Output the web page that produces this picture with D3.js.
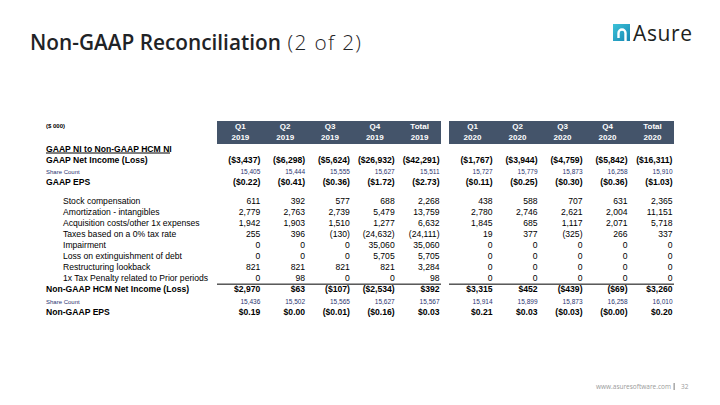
<!DOCTYPE html>
<html lang="en">
<head>
<meta charset="utf-8">
<title>Non-GAAP Reconciliation (2 of 2)</title>
<script src="https://d3js.org/d3.v7.min.js"></script>
<style>
  body { margin: 0; background: #fff; }
  svg text { font-family: "Liberation Sans", Arial, sans-serif; }
</style>
</head>
<body>
<div id="slide"></div>
<script>
// column headers
var quarters = ["Q1", "Q2", "Q3", "Q4", "Total"];
var years = ["2019", "2020"];

// values, Q1..Q4, Total 2019 then Q1..Q4, Total 2020
var gaapNetIncome   = [-3437, -6298, -5624, -26932, -42291, -1767, -3944, -4759, -5842, -16311];
var gaapShares      = [15405, 15444, 15555, 15627, 15511, 15727, 15779, 15873, 16258, 15910];
var gaapEps         = [-0.22, -0.41, -0.36, -1.72, -2.73, -0.11, -0.25, -0.30, -0.36, -1.03];
var stockComp       = [611, 392, 577, 688, 2268, 438, 588, 707, 631, 2365];
var amortization    = [2779, 2763, 2739, 5479, 13759, 2780, 2746, 2621, 2004, 11151];
var acquisition     = [1942, 1903, 1510, 1277, 6632, 1845, 685, 1117, 2071, 5718];
var taxes           = [255, 396, -130, -24632, -24111, 19, 377, -325, 266, 337];
var impairment      = [0, 0, 0, 35060, 35060, 0, 0, 0, 0, 0];
var debtLoss        = [0, 0, 0, 5705, 5705, 0, 0, 0, 0, 0];
var restructuring   = [821, 821, 821, 821, 3284, 0, 0, 0, 0, 0];
var taxPenalty      = [0, 98, 0, 0, 98, 0, 0, 0, 0, 0];
var nonGaapNI       = [2970, 63, -107, -2534, 392, 3315, 452, -439, -69, 3260];
var nonGaapShares   = [15436, 15502, 15565, 15627, 15567, 15914, 15899, 15873, 16258, 16010];
var nonGaapEps      = [0.19, 0.00, -0.01, -0.16, 0.03, 0.21, 0.03, -0.03, -0.004, 0.20];

var rows = [
  {label: "GAAP NI to Non-GAAP HCM NI", pos: 0, kind: "section"},
  {label: "GAAP Net Income (Loss)", pos: 1, kind: "money", values: gaapNetIncome},
  {label: "Share Count", pos: 2, kind: "share", values: gaapShares},
  {label: "GAAP EPS", pos: 3, kind: "eps", values: gaapEps},
  {label: "Stock compensation", pos: 4.7, kind: "adj", values: stockComp},
  {label: "Amortization - intangibles", pos: 5.7, kind: "adj", values: amortization},
  {label: "Acquisition costs/other 1x expenses", pos: 6.7, kind: "adj", values: acquisition},
  {label: "Taxes based on a 0% tax rate", pos: 7.7, kind: "adj", values: taxes},
  {label: "Impairment", pos: 8.7, kind: "adj", values: impairment},
  {label: "Loss on extinguishment of debt", pos: 9.7, kind: "adj", values: debtLoss},
  {label: "Restructuring lookback", pos: 10.7, kind: "adj", values: restructuring},
  {label: "1x Tax Penalty related to Prior periods", pos: 11.7, kind: "adj", values: taxPenalty},
  {label: "Non-GAAP HCM Net Income (Loss)", pos: 12.7, kind: "money", values: nonGaapNI},
  {label: "Share Count", pos: 13.7, kind: "share", values: nonGaapShares},
  {label: "Non-GAAP EPS", pos: 14.7, kind: "eps", values: nonGaapEps}
];

var W = 720, H = 405;
var svg = d3.select("#slide").append("svg")
    .attr("width", W)
    .attr("height", H);

// title
var title = svg.append("text")
    .attr("x", 30).attr("y", 50)
    .attr("fill", "#1f2326")
    .style("font-family", "'Open Sans', sans-serif")
    .style("font-size", "20.8px");
title.append("tspan").style("font-weight", 600).text("Non-GAAP Reconciliation");
title.append("tspan").style("font-weight", 300).style("letter-spacing", "1.3px").text(" (2 of 2)");

// logo
var grad = svg.append("defs").append("linearGradient")
    .attr("id", "logoGrad").attr("x1", 0).attr("y1", 0).attr("x2", 1).attr("y2", 1);
grad.append("stop").attr("offset", "0%").attr("stop-color", "#3cc3d8");
grad.append("stop").attr("offset", "100%").attr("stop-color", "#1787b3");
svg.append("rect").attr("x", 613).attr("y", 24).attr("width", 17).attr("height", 17)
    .attr("fill", "url(#logoGrad)");
svg.append("path")
    .attr("d", "M618.5,38 V33 A3.5,3.5 0 0 1 625.5,33 V41")
    .attr("fill", "none").attr("stroke", "#fff").attr("stroke-width", 2.4);
svg.append("text")
    .attr("x", 633).attr("y", 40.5)
    .attr("fill", "#1d1f21")
    .style("font-family", "'Open Sans', sans-serif")
    .style("font-size", "21px")
    .style("letter-spacing", "0.6px")
    .text("Asure");

// footer
svg.append("text")
    .attr("x", 671).attr("y", 389).attr("text-anchor", "end")
    .attr("fill", "#9a9a9a")
    .style("font-family", "'Open Sans', sans-serif")
    .style("font-size", "6.5px")
    .text("www.asuresoftware.com");
svg.append("rect").attr("x", 673.5).attr("y", 383).attr("width", 1.3).attr("height", 7).attr("fill", "#9a9a9a");
svg.append("text")
    .attr("x", 681).attr("y", 389)
    .attr("fill", "#9a9a9a")
    .style("font-family", "'Open Sans', sans-serif")
    .style("font-size", "6.5px")
    .text("32");

// scales
var y = d3.scaleLinear().domain([0, 1]).range([151.5, 162.6]);
var groupX = d3.scaleOrdinal().domain(years).range([[217, 441], [449, 674]]);
function colScale(year) {
  return d3.scaleBand().domain(quarters).range(groupX(year));
}

function fmt(v, kind) {
  var dollar = kind === "money" || kind === "eps";
  var s = d3.format(kind === "eps" ? ",.2f" : ",.0f")(Math.abs(v));
  if (dollar) s = "$" + s;
  return v < 0 ? "(" + s + ")" : s;
}

// units label
svg.append("text")
    .attr("x", 46).attr("y", 128)
    .style("font-size", "6px").style("font-weight", "bold")
    .text("($ 000)");

// header bars
years.forEach(function(yr, gi) {
  var x = colScale(yr);
  var r = groupX(yr);
  svg.append("rect")
      .attr("x", r[0]).attr("y", 121)
      .attr("width", r[1] - r[0]).attr("height", 23)
      .attr("fill", "#44546a");
  var h = svg.append("g").selectAll("g").data(quarters).join("g")
      .attr("transform", function(d) { return "translate(" + (x(d) + x.bandwidth() / 2 + 1) + ",0)"; });
  h.append("text").attr("y", 128.5).attr("text-anchor", "middle")
      .attr("fill", "#fff").style("font-size", "8px").style("font-weight", "bold")
      .text(function(d) { return d; });
  h.append("text").attr("y", 140).attr("text-anchor", "middle")
      .attr("fill", "#fff").style("font-size", "8px").style("font-weight", "bold")
      .text(yr);

  // total separator line
  svg.append("line")
      .attr("x1", r[0]).attr("x2", r[1])
      .attr("y1", y(11.95)).attr("y2", y(11.95))
      .attr("stroke", "#000").attr("stroke-width", 1);

  // values
  rows.filter(function(row) { return row.values; }).forEach(function(row) {
    var vals = row.values.slice(gi * 5, gi * 5 + 5);
    svg.append("g").selectAll("text").data(vals).join("text")
        .attr("x", function(d, i) { return x(quarters[i]) + x.bandwidth() - 1.5; })
        .attr("y", y(row.pos))
        .attr("text-anchor", "end")
        .attr("fill", row.kind === "share" ? "#2a3470" : "#000")
        .style("font-size", row.kind === "share" ? "6.5px" : "8.6px")
        .style("font-weight", row.kind === "adj" || row.kind === "share" ? "normal" : "bold")
        .text(function(d) { return fmt(d, row.kind); });
  });
});

// row labels
svg.append("g").selectAll("text").data(rows).join("text")
    .attr("x", function(d) { return d.kind === "adj" ? 63 : 46; })
    .attr("y", function(d) { return y(d.pos); })
    .attr("fill", function(d) { return d.kind === "share" ? "#2a3470" : "#000"; })
    .style("font-size", function(d) { return d.kind === "share" ? "6px" : "8.6px"; })
    .style("font-weight", function(d) { return d.kind === "adj" || d.kind === "share" ? "normal" : "bold"; })
    .text(function(d) { return d.label; });

// underline under section heading
svg.append("line")
    .attr("x1", 46).attr("x2", 170)
    .attr("y1", y(0) + 1.5).attr("y2", y(0) + 1.5)
    .attr("stroke", "#000").attr("stroke-width", 1);
</script>
</body>
</html>
